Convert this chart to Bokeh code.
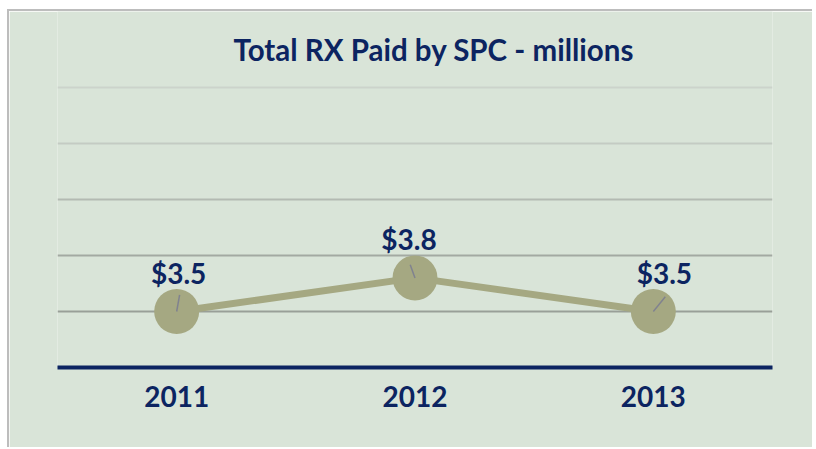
from bokeh.plotting import figure
from bokeh.models import ColumnDataSource, Range1d, FactorRange, Label
from bokeh.core.properties import value
from bokeh.embed import file_html
from bokeh.resources import INLINE

title_text = "Total RX Paid by SPC - millions"
years = ["2011", "2012", "2013"]
paid = [3.5, 3.8, 3.5]
labels = ["$3.5", "$3.8", "$3.5"]
grid_levels = [3.0, 3.5, 4.0, 4.5, 5.0, 5.5]

NAVY = "#0c2461"
OLIVE = "#a5a882"
BG = "#d9e4d8"
grid_colors = ["#999f98", "#999f98", "#a3a9a2", "#b3bab2", "#c4cbc3", "#ccd3cb"]
label_dx = [2, -6, 11]
leader_angle = [80, 110, 51]
leader_len = [17, 14, 19]

# frame extends up to the top so that the title sits inside it
p = figure(width=805, height=438, output_backend="svg", toolbar_location=None,
           x_range=FactorRange(*years), y_range=Range1d(3.0, 6.1786),
           min_border_left=48, min_border_right=42, min_border_top=0, min_border_bottom=82,
           background_fill_color=BG, border_fill_color=BG, outline_line_color=None,
           styles={"margin-left": "7px", "margin-top": "9px",
                   "border-left": "2px solid #bdbdbd", "border-top": "2px solid #bdbdbd"})

title = Label(x=176, y=318, x_units="screen", y_units="screen", text=title_text,
              text_font="Lato", text_font_style="bold", text_font_size="29.5px",
              text_color=NAVY, text_align="left", text_baseline="alphabetic")
p.add_layout(title)

p.xgrid.visible = False
p.ygrid.visible = False
p.yaxis.visible = False

gsrc = ColumnDataSource(dict(y=grid_levels, c=grid_colors))
p.hspan(y="y", line_color="c", line_width=2, source=gsrc)

ax = p.xaxis[0]
ax.axis_line_color = NAVY
ax.axis_line_width = 4
ax.major_tick_line_color = None
ax.minor_tick_line_color = None
ax.major_label_text_font = "Lato"
ax.major_label_text_font_style = "bold"
ax.major_label_text_font_size = "28px"
ax.major_label_text_color = NAVY
ax.major_label_standoff = 12

src = ColumnDataSource(dict(x=years, y=paid, t=labels, dx=label_dx,
                            a=leader_angle, l=leader_len))
p.line("x", "y", source=src, line_color=OLIVE, line_width=7)
p.scatter("x", "y", source=src, size=45, fill_color=OLIVE, line_color=None)
p.ray("x", "y", length="l", length_units="screen", angle="a", angle_units="deg",
      source=src, line_color="#80828f", line_width=1.5)
p.text("x", "y", text="t", source=src, x_offset="dx", y_offset=-39,
       text_align="center", text_baseline="alphabetic",
       text_font=value("Lato"), text_font_style="bold", text_font_size="28px",
       text_color=NAVY)

open("out.html", "w").write(file_html(p, INLINE))
